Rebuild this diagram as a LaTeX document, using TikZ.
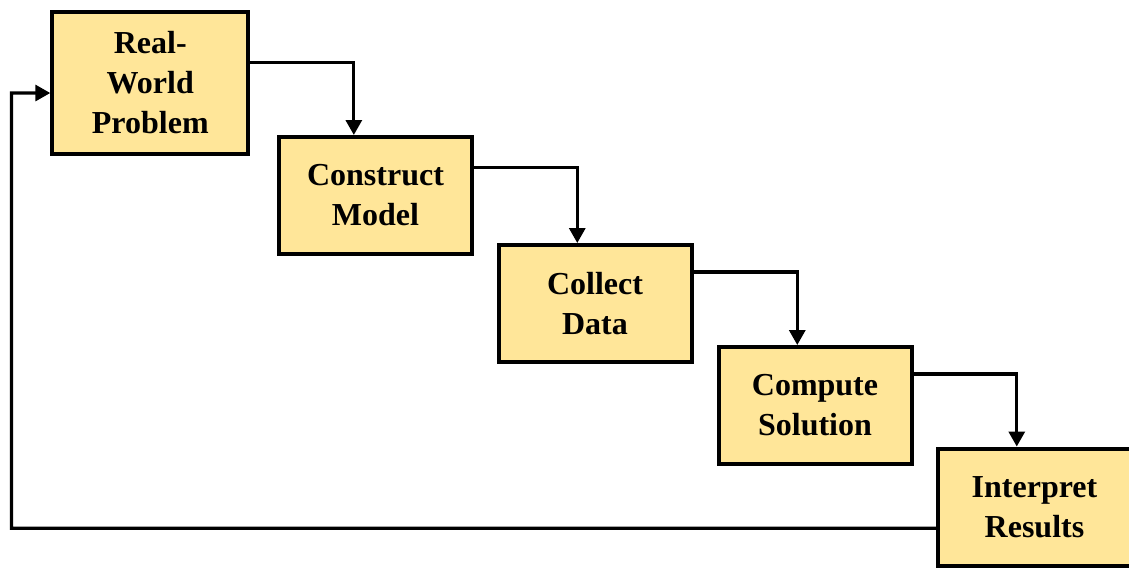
\documentclass[tikz,border=0pt]{standalone}
\usepackage{fontspec}
\setmainfont{Liberation Serif}
\usepackage{xcolor}
\usetikzlibrary{arrows.meta, calc}
\definecolor{step-fill}{HTML}{FFE699}

\begin{document}
\begin{tikzpicture}[x=0.5pt, y=-0.5pt,
      every node/.style={font=\fontsize{16}{20}\selectfont\bfseries},
      stagebox/.style={draw=black, line width=2pt, fill=step-fill,
          minimum width=96.5pt, minimum height=58.5pt, align=center,
          inner sep=0pt},
      flow/.style={line width=1.6pt,
          -{Triangle[length=7.5pt, width=8pt]}}]
    \useasboundingbox (0,0) rectangle (1129,568);
    \node[stagebox, minimum width=98pt, minimum height=71pt]
          (real) at (150.3,82.8) {Real-\\World\\Problem};
    \node[stagebox] (model) at (375.5,195.5) {Construct\\Model};
    \node[stagebox] (data) at (595,303.5) {Collect\\Data};
    \node[stagebox] (solve) at (815,405.5) {Compute\\Solution};
    \node[stagebox] (interp) at (1034.5,507) {Interpret\\Results};
    \coordinate (back) at (11.5,93);
    % steps down the staircase
    \draw[flow] ($(real.north east)!0.36!(real.south east)$)
          -| ($(model.north west)!0.39!(model.north east)$);
    \draw[flow] ($(model.north east)!0.27!(model.south east)$)
          -| ($(data.north west)!0.41!(data.north east)$);
    \draw[flow] ($(data.north east)!0.24!(data.south east)$)
          -| ($(solve.north west)!0.41!(solve.north east)$);
    \draw[flow] ($(solve.north east)!0.24!(solve.south east)$)
          -| ($(interp.north west)!0.41!(interp.north east)$);
    % loop back to the start
    \draw[flow] ($(interp.north west)!0.675!(interp.south west)$)
          -| (back) -- ($(real.north west)!0.57!(real.south west)$);
  \end{tikzpicture}
\end{document}
